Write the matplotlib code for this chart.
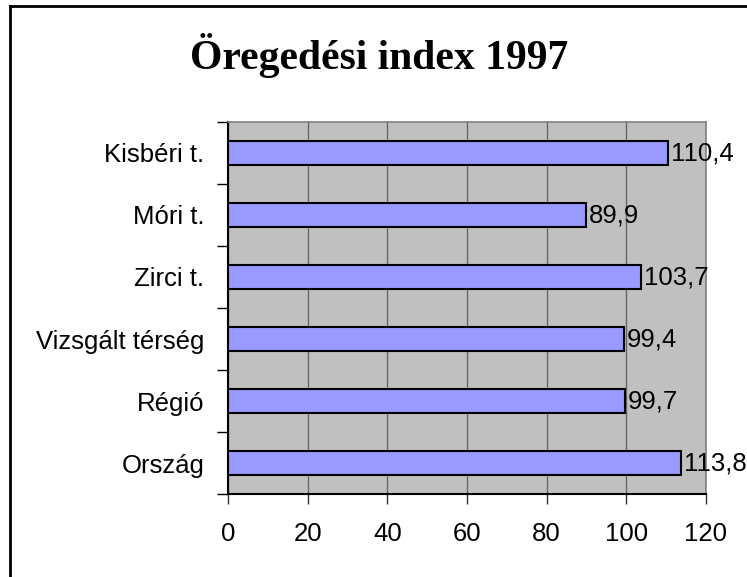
import matplotlib
matplotlib.use("Agg")
import matplotlib.pyplot as plt
from matplotlib.lines import Line2D

categories = ["Kisbéri t.", "Móri t.", "Zirci t.", "Vizsgált térség", "Régió", "Ország"]
values = [110.4, 89.9, 103.7, 99.4, 99.7, 113.8]
value_labels = ["110,4", "89,9", "103,7", "99,4", "99,7", "113,8"]
xticks = [0, 20, 40, 60, 80, 100, 120]
title = "Öregedési index 1997"

W, H = 747, 577
FS = 18.5
fig = plt.figure(figsize=(W / 100, H / 100), dpi=100)
fig.patch.set_facecolor("white")

ax = fig.add_axes([228 / W, 1 - 494 / H, (706 - 228) / W, (494 - 122) / H])
ax.set_facecolor("#C0C0C0")

n = len(categories)
ypos = list(range(n))
ax.barh(ypos, values, height=0.4, color="#9999FF", edgecolor="black", linewidth=1.5, zorder=3)
ax.set_ylim(n - 0.5, -0.5)
ax.set_xlim(0, 120)

for y, v, lab in zip(ypos, values, value_labels):
    ax.annotate(lab, (v, y), xytext=(2, 0), textcoords="offset points",
                ha="left", va="center", fontsize=FS, family="Liberation Sans", zorder=4)

ax.set_xticks(xticks)
ax.set_xticklabels([str(t) for t in xticks], fontsize=FS, family="Liberation Sans")
ax.tick_params(axis="x", length=7, width=1, color="#333333", pad=13, direction="out")

# category labels at bar centers, ticks at boundaries
ax.set_yticks([i - 0.5 for i in range(n + 1)])
ax.set_yticklabels([])
ax.tick_params(axis="y", length=8, width=1, color="black", direction="out")
ax.set_yticks(ypos, minor=True)
ax.set_yticklabels(categories, minor=True, fontsize=FS, family="Liberation Sans")
ax.tick_params(axis="y", which="minor", length=0, pad=17)

ax.grid(axis="x", color="#666666", linewidth=1, zorder=1)
ax.set_axisbelow(True)
for s in ["top", "right"]:
    ax.spines[s].set_color("#808080")
    ax.spines[s].set_linewidth(1.2)
for s in ["left", "bottom"]:
    ax.spines[s].set_color("black")
    ax.spines[s].set_linewidth(1.5)

fig.text(379 / W, 1 - 56 / H, title, ha="center", va="center", fontsize=30,
         fontweight="bold", family="Liberation Serif")

# outer frame (left and top visible)
fig.add_artist(Line2D([10 / W, 10 / W], [0, 1 - 6 / H], transform=fig.transFigure, color="black", linewidth=2))
fig.add_artist(Line2D([10 / W, 1], [1 - 6 / H, 1 - 6 / H], transform=fig.transFigure, color="black", linewidth=2))

fig.savefig("out.png", dpi=100)
